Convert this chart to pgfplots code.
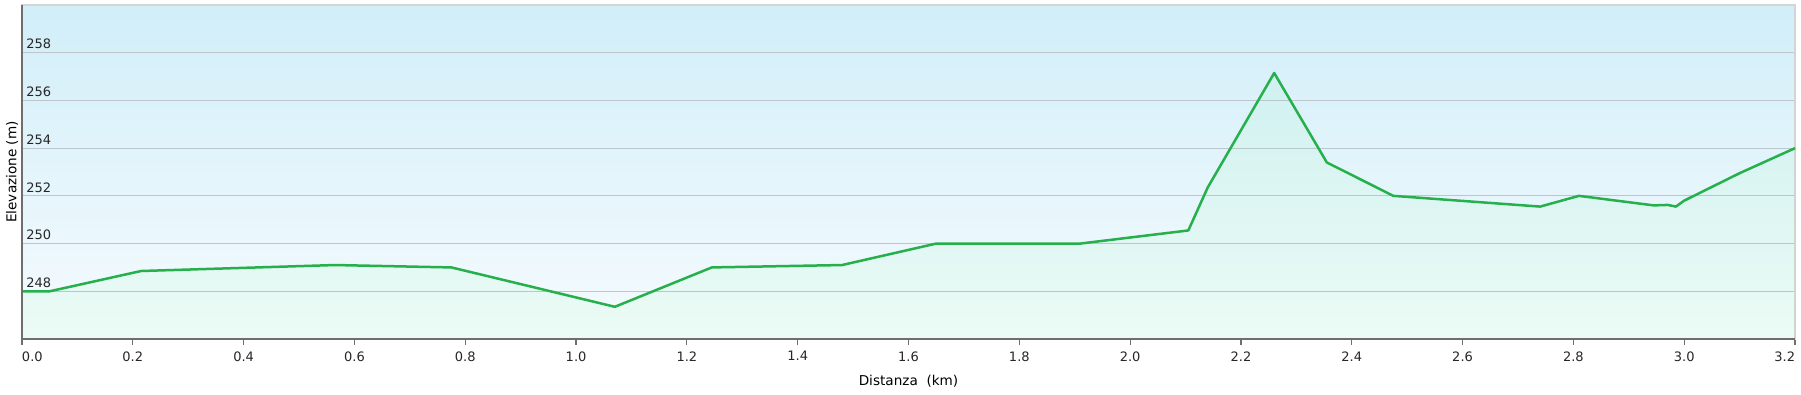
\documentclass[border=0pt]{standalone}
\usepackage{fontspec}
\setmainfont{DejaVu Sans}
\usepackage{pgfplots}
\pgfplotsset{compat=1.18}
\definecolor{linegreen}{RGB}{38,176,76}
\definecolor{fillgreen}{RGB}{80,255,110}
\definecolor{bgtop}{RGB}{209,238,249}
\definecolor{bgbot}{RGB}{246,251,254}
\definecolor{gridc}{RGB}{188,198,203}
\definecolor{axdark}{RGB}{110,110,110}
\definecolor{axlight}{RGB}{212,212,212}
\begin{document}
\begin{tikzpicture}
\begin{axis}[
  scale only axis,
  width=886.5pt, height=167pt,
  xmin=0, xmax=3.2, ymin=246, ymax=260,
  axis background/.style={shade, top color=bgtop, bottom color=bgbot},
  axis line style={draw=axlight, line width=1pt},
  xtick={0,0.2,0.4,0.6,0.8,1.0,1.2,1.4,1.6,1.8,2.0,2.2,2.4,2.6,2.8,3.0,3.2},
  xticklabels={\rlap{0.0},0.2,0.4,0.6,0.8,1.0,1.2,1.4,1.6,1.8,2.0,2.2,2.4,2.6,2.8,3.0,\llap{3.2}},
  ytick={248,250,252,254,256,258},
  yticklabels={248,250,252,254,256,258},
  ymajorgrids,
  major grid style={draw=gridc, line width=0.6pt},
  x tick style={draw=axdark, line width=0.6pt},
  xtick pos=bottom,
  tick align=outside,
  major tick length=3pt,
  ytick style={draw=none},
  ytick pos=left,
  tick label style={font=\fontsize{6.5}{7}\selectfont, text=black!85},
  /pgf/number format/assume math mode=true,
  yticklabel style={anchor=south west, inner sep=0pt, xshift=5pt, yshift=1.6pt},
  xticklabel style={inner sep=0pt, yshift=-3pt},
  xlabel={Distanza\ \ (km)},
  ylabel={Elevazione (m)},
  label style={font=\fontsize{6.8}{7}\selectfont},
  xlabel style={at={(axis description cs:0.5,-0.126)}, anchor=center},
  ylabel style={at={(axis description cs:-0.0056,0.5)}, anchor=center},
  clip=false,
]
\addplot[draw=none, fill=fillgreen, fill opacity=0.06] coordinates {
(0,246) (0,248.0) (0.05,248.0) (0.215,248.85) (0.565,249.1) (0.775,249.0)
(1.07,247.35) (1.245,249.0) (1.48,249.1) (1.65,250.0) (1.91,250.0)
(2.105,250.55) (2.14,252.35) (2.26,257.15) (2.355,253.4) (2.475,252.0)
(2.74,251.55) (2.81,252.0) (2.945,251.6) (2.97,251.62) (2.985,251.55)
(3.0,251.8) (3.1,252.95) (3.2,254.0) (3.2,246)
};
\addplot[draw=linegreen, line width=1.25pt, line join=round] coordinates {
(0,248.0) (0.05,248.0) (0.215,248.85) (0.565,249.1) (0.775,249.0)
(1.07,247.35) (1.245,249.0) (1.48,249.1) (1.65,250.0) (1.91,250.0)
(2.105,250.55) (2.14,252.35) (2.26,257.15) (2.355,253.4) (2.475,252.0)
(2.74,251.55) (2.81,252.0) (2.945,251.6) (2.97,251.62) (2.985,251.55)
(3.0,251.8) (3.1,252.95) (3.2,254.0)
};
\draw[axdark, line width=0.8pt] (rel axis cs:0,1) -- (rel axis cs:0,0) -- (rel axis cs:1,0);
\end{axis}
\pgfresetboundingbox
\path ([shift={(-11pt,-28pt)}]current axis.south west) rectangle ([shift={(3pt,2.5pt)}]current axis.north east);
\end{tikzpicture}
\end{document}
